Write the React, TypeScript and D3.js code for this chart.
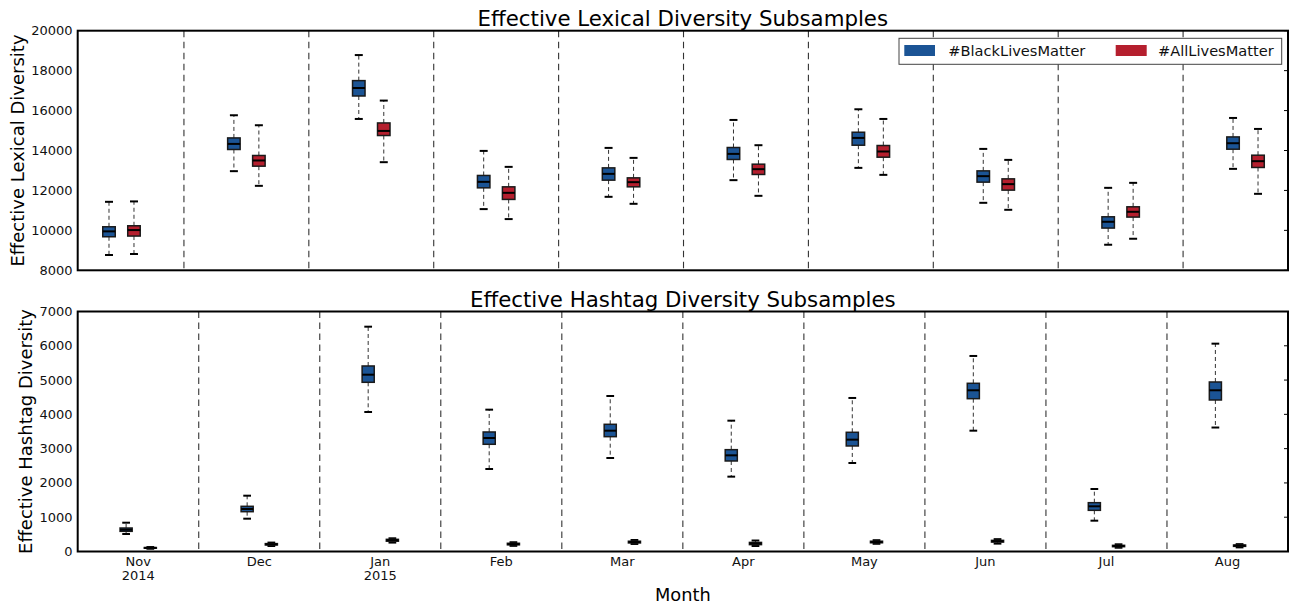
import React from "react";
import * as d3 from "d3";

// [lower whisker, q1, median, q3, upper whisker] per month
const months = ["Nov", "Dec", "Jan", "Feb", "Mar", "Apr", "May", "Jun", "Jul", "Aug"];
const monthYears = ["2014", "", "2015", "", "", "", "", "", "", ""];

const lexicalBLM = [
  [8765, 9680, 9950, 10180, 11430],
  [12965, 14050, 14330, 14630, 15765],
  [15580, 16730, 17130, 17500, 18780],
  [11065, 12130, 12430, 12750, 13980],
  [11680, 12515, 12830, 13130, 14130],
  [12515, 13550, 13830, 14150, 15530],
  [13130, 14265, 14630, 14915, 16065],
  [11380, 12415, 12715, 12980, 14080],
  [9280, 10115, 10430, 10680, 12130],
  [13080, 14065, 14365, 14680, 15630],
];
const lexicalALM = [
  [8815, 9715, 10015, 10230, 11450],
  [12230, 13215, 13500, 13750, 15265],
  [13415, 14750, 14980, 15380, 16500],
  [10565, 11550, 11880, 12180, 13180],
  [11330, 12180, 12415, 12630, 13630],
  [11730, 12800, 13065, 13315, 14265],
  [12780, 13665, 13950, 14250, 15580],
  [11030, 12015, 12315, 12580, 13530],
  [9580, 10665, 10930, 11180, 12380],
  [11830, 13150, 13465, 13765, 15080],
];
const hashtagBLM = [
  [510, 588, 636, 685, 840],
  [957, 1161, 1240, 1318, 1628],
  [4069, 4935, 5157, 5411, 6557],
  [2406, 3127, 3311, 3486, 4137],
  [2727, 3349, 3524, 3710, 4536],
  [2183, 2640, 2805, 2970, 3816],
  [2582, 3078, 3262, 3477, 4478],
  [3524, 4457, 4702, 4906, 5703],
  [899, 1201, 1318, 1424, 1823],
  [3616, 4419, 4702, 4944, 6062],
];
const hashtagALM = [
  [80, 95, 105, 115, 130],
  [160, 190, 210, 230, 260],
  [260, 300, 330, 355, 385],
  [165, 195, 215, 240, 270],
  [220, 250, 275, 300, 335],
  [160, 200, 235, 265, 320],
  [225, 255, 275, 300, 330],
  [230, 275, 300, 325, 360],
  [110, 140, 160, 180, 210],
  [120, 150, 170, 190, 215],
];
const lexicalTicks = [8000, 10000, 12000, 14000, 16000, 18000, 20000];
const hashtagTicks = [0, 1000, 2000, 3000, 4000, 5000, 6000, 7000];
const seriesNames = ["#BlackLivesMatter", "#AllLivesMatter"];

const BLUE = "#1b5495";
const RED = "#b51f2e";
const FONT = "DejaVu Sans, sans-serif";

const W = 1293;
const H = 605;
const L = 77.7;
const R = 1288;

type Stats = number[];

function BoxMark({ x, y, s, color, bw, cw }: { x: number; y: d3.ScaleLinear<number, number>; s: Stats; color: string; bw: number; cw: number }) {
  const [lo, q1, med, q3, hi] = s;
  return (
    <g>
      <line x1={x} x2={x} y1={y(q3)} y2={y(hi)} stroke="#333" strokeWidth={1} strokeDasharray="4,3" />
      <line x1={x} x2={x} y1={y(q1)} y2={y(lo)} stroke="#333" strokeWidth={1} strokeDasharray="4,3" />
      <line x1={x - cw / 2} x2={x + cw / 2} y1={y(hi)} y2={y(hi)} stroke="#000" strokeWidth={2} />
      <line x1={x - cw / 2} x2={x + cw / 2} y1={y(lo)} y2={y(lo)} stroke="#000" strokeWidth={2} />
      <rect x={x - bw / 2} y={y(q3)} width={bw} height={Math.max(0, y(q1) - y(q3))} fill={color} stroke="#1a1a1a" strokeWidth={1.5} />
      <line x1={x - bw / 2} x2={x + bw / 2} y1={y(med)} y2={y(med)} stroke="#000" strokeWidth={2} />
    </g>
  );
}

function Panel({
  top, bottom, xScale, yScale, ticks, blm, alm, blmPos, almPos, dividers, title, ylabel, ylabelX, showX,
}: any) {
  const bw = xScale(0.5) - xScale(0);
  const cw = xScale(0.32) - xScale(0);
  return (
    <g>
      <text x={(L + R) / 2} y={top - 5} textAnchor="middle" fontFamily={FONT} fontSize={21.3} fill="#000">{title}</text>
      <text transform={`translate(${ylabelX},${(top + bottom) / 2}) rotate(-90)`} textAnchor="middle" fontFamily={FONT} fontSize={18} fill="#000">{ylabel}</text>
      {dividers.map((d: number, i: number) => (
        <line key={"dv" + i} x1={xScale(d)} x2={xScale(d)} y1={top} y2={bottom} stroke="#333" strokeWidth={1.1} strokeDasharray="6.5,4.5" />
      ))}
      {ticks.map((t: number) => (
        <g key={"t" + t}>
          <text x={72.5} y={yScale(t)} dy="0.35em" textAnchor="end" fontFamily={FONT} fontSize={13} fill="#111">{t}</text>
          <line x1={R - 4} x2={R} y1={yScale(t)} y2={yScale(t)} stroke="#000" strokeWidth={1} />
        </g>
      ))}
      {blm.map((s: Stats, i: number) => (
        <BoxMark key={"b" + i} x={xScale(blmPos[i])} y={yScale} s={s} color={BLUE} bw={bw} cw={cw} />
      ))}
      {alm.map((s: Stats, i: number) => (
        <BoxMark key={"a" + i} x={xScale(almPos[i])} y={yScale} s={s} color={RED} bw={bw} cw={cw} />
      ))}
      {showX &&
        months.map((m, i) => {
          const cx = xScale((blmPos[i] + almPos[i]) / 2);
          return (
            <text key={"m" + i} x={cx} y={bottom + 14.5} textAnchor="middle" fontFamily={FONT} fontSize={13} fill="#111">
              <tspan x={cx}>{m}</tspan>
              {monthYears[i] && <tspan x={cx} dy="14">{monthYears[i]}</tspan>}
            </text>
          );
        })}
      <rect x={L} y={top} width={R - L} height={bottom - top} fill="none" stroke="#000" strokeWidth={2} />
    </g>
  );
}

export default function App() {
  const topY0 = 30.7, topY1 = 270.3;
  const botY0 = 311.5, botY1 = 551.5;

  const xTop = d3.scaleLinear().domain([-1.253, 47.2]).range([L, R]);
  const yTop = d3.scaleLinear().domain([8000, 20000]).range([topY1, topY0]);
  const xBot = d3.scaleLinear().domain([0, 50]).range([L, R]);
  const yBot = d3.scaleLinear().domain([0, 7000]).range([botY1, botY0]);

  const topBlmPos = months.map((_, i) => 5 * i);
  const topAlmPos = months.map((_, i) => 5 * i + 1);
  const topDividers = d3.range(9).map((i) => 5 * i + 3);
  const botBlmPos = months.map((_, i) => 5 * i + 2);
  const botAlmPos = months.map((_, i) => 5 * i + 3);
  const botDividers = d3.range(1, 10).map((i) => 5 * i);

  const lg = { x: 899, y: 38.3, w: 382.7, h: 26 };

  return (
    <svg width={W} height={H} style={{ position: "absolute", left: 0, top: 0, background: "#fff" }}>
      <rect width={W} height={H} fill="#fff" />
      <Panel
        top={topY0} bottom={topY1} xScale={xTop} yScale={yTop} ticks={lexicalTicks}
        blm={lexicalBLM} alm={lexicalALM} blmPos={topBlmPos} almPos={topAlmPos}
        dividers={topDividers} title="Effective Lexical Diversity Subsamples"
        ylabel="Effective Lexical Diversity" ylabelX={23.5} showX={false}
      />
      <Panel
        top={botY0} bottom={botY1} xScale={xBot} yScale={yBot} ticks={hashtagTicks}
        blm={hashtagBLM} alm={hashtagALM} blmPos={botBlmPos} almPos={botAlmPos}
        dividers={botDividers} title="Effective Hashtag Diversity Subsamples"
        ylabel="Effective Hashtag Diversity" ylabelX={31.5} showX={true}
      />
      <text x={(L + R) / 2} y={601} textAnchor="middle" fontFamily={FONT} fontSize={17.8} fill="#000">Month</text>
      <g>
        <rect x={lg.x} y={lg.y} width={lg.w} height={lg.h} fill="#fff" stroke="#444" strokeWidth={1} />
        <rect x={904.3} y={45} width={30.7} height={11} fill={BLUE} />
        <text x={948.3} y={51} dy="0.35em" fontFamily={FONT} fontSize={14.6} fill="#111">{seriesNames[0]}</text>
        <rect x={1115.7} y={45} width={31} height={11} fill={RED} />
        <text x={1158} y={51} dy="0.35em" fontFamily={FONT} fontSize={14.6} fill="#111">{seriesNames[1]}</text>
      </g>
    </svg>
  );
}
